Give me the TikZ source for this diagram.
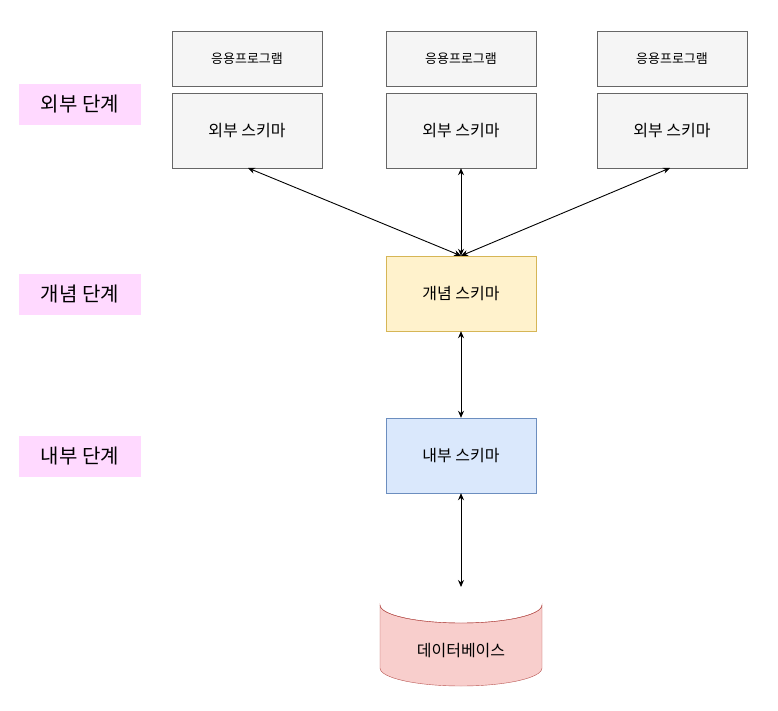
\documentclass[tikz,border=0pt]{standalone}
\usepackage{fontspec}
\setmainfont{Noto Sans CJK KR}
\usetikzlibrary{shapes.geometric, arrows.meta}
\definecolor{grayfill}{HTML}{F5F5F5}
\definecolor{grayline}{HTML}{666666}
\definecolor{yelfill}{HTML}{FFF2CC}
\definecolor{yelline}{HTML}{D6B656}
\definecolor{bluefill}{HTML}{DAE8FC}
\definecolor{blueline}{HTML}{6C8EBF}
\definecolor{redfill}{HTML}{F8CECC}
\definecolor{redline}{HTML}{B85450}
\definecolor{pinkfill}{HTML}{FFD9FF}
\tikzset{
    box/.style={draw, minimum width=150pt, minimum height=75pt, inner sep=0pt, font=\fontsize{16}{19}\selectfont},
    app/.style={box, draw=grayline, fill=grayfill, minimum height=55pt, font=\fontsize{13}{15}\selectfont},
    ext/.style={box, draw=grayline, fill=grayfill},
    level/.style={fill=pinkfill, minimum width=122pt, minimum height=41pt, inner sep=0pt, font=\fontsize{20}{24}\selectfont},
    link/.style={{Stealth[length=7pt,width=6pt]}-{Stealth[length=7pt,width=6pt]}, line width=0.9pt},
}
\begin{document}
\begin{tikzpicture}[x=1pt, y=-1pt]
    \useasboundingbox (0,0) rectangle (778,711);

    \node[level] (l1) at (80,104.5) {외부 단계};
    \node[level] (l2) at (80,294) {개념 단계};
    \node[level] (l3) at (80,456) {내부 단계};

    \node[app] (a1) at (247,58.5) {응용프로그램};
    \node[app] (a2) at (461,58.5) {응용프로그램};
    \node[app] (a3) at (672,58.5) {응용프로그램};
    \node[ext] (e1) at (247,130.5) {외부 스키마};
    \node[ext] (e2) at (461,130.5) {외부 스키마};
    \node[ext] (e3) at (672,130.5) {외부 스키마};

    \node[box, draw=yelline, fill=yelfill] (c) at (461,293.5) {개념 스키마};
    \node[box, draw=blueline, fill=bluefill] (i) at (461,455.5) {내부 스키마};

    % database cylinder
    \draw[redline, fill=redfill] (380,605) -- (380,668) arc[start angle=180, end angle=360, x radius=81pt, y radius=18pt] -- (542,605) arc[start angle=0, end angle=180, x radius=81pt, y radius=-18pt] -- cycle;
    \draw[redline] (380,605) arc[start angle=180, end angle=360, x radius=81pt, y radius=18pt];
    \node[font=\fontsize{16}{19}\selectfont] (db) at (461,651) {데이터베이스};

    \coordinate (e1b) at (248,168);
    \coordinate (e3b) at (670,168);
    \coordinate (dbtop) at (461,587);
    \draw[link] (e1b) -- (c.north);
    \draw[link] (e2) -- (c);
    \draw[link] (e3b) -- (c.north);
    \draw[link] (c) -- (i);
    \draw[link] (i) -- (dbtop);
\end{tikzpicture}
\end{document}
